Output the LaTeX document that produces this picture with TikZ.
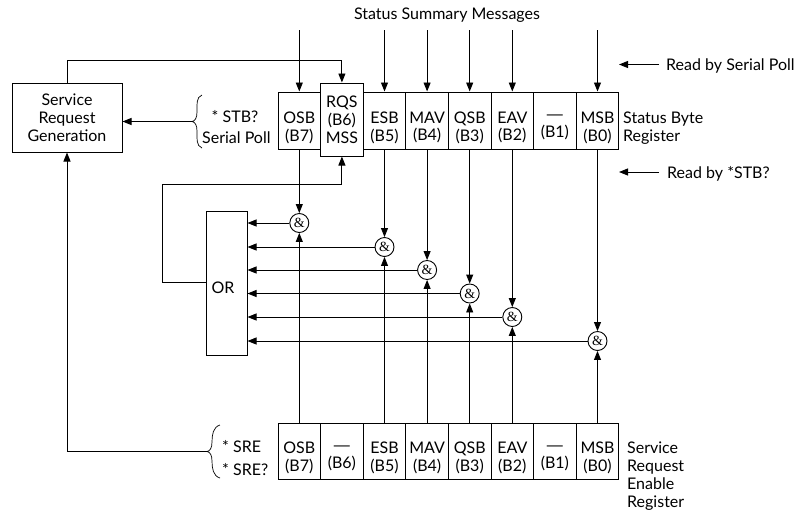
\documentclass[tikz,border=0pt]{standalone}
\usepackage{fontspec}
\setmainfont{Lato}
\newfontfamily\ampfont{Liberation Serif}
\newfontfamily\dashfont{Liberation Sans}
\usetikzlibrary{arrows.meta,calc}
\begin{document}
\begin{tikzpicture}[x=1pt,y=-1pt,
  arr/.style={-{Triangle[length=9pt,width=7pt]},line width=0.9pt},
  ln/.style={line width=0.9pt},
  cell/.style={draw,line width=1pt,minimum width=42.6pt,inner sep=0pt,fill=white},
  lab/.style={font=\fontsize{16}{17.8}\selectfont,align=center,inner sep=0pt},
  gate/.style={circle,draw,line width=0.9pt,minimum size=19pt,inner sep=0pt,fill=white,font=\ampfont\fontsize{14}{14}\selectfont}]
\useasboundingbox (0,0) rectangle (809,515);

% Status Byte Register
\foreach \nm/\i/\ta/\tb in {OSB/0/OSB/(B7), ESB/2/ESB/(B5), MAV/3/MAV/(B4), QSB/4/QSB/(B3), EAV/5/EAV/(B2), B1/6/{\dashfont—}/(B1), MSB/7/MSB/(B0)} {
  \node[cell,minimum height=57pt] (t\nm) at ({278+42.6*(\i+0.5)},120.5) {};
  \node[lab] (t\nm-l) at ($(t\nm.center)+(0,7)$) {\ta\\\tb};
}
\node[cell,minimum height=73pt] (tRQS) at (341.9,119.5) {};
\node[lab] (tRQS-l) at (tRQS.center) {RQS\\(B6)\\MSS};
\node[lab,anchor=west,align=left] (sbr) at (623,128) {Status Byte\\Register};

% Service Request Enable Register
\foreach \nm/\i/\ta/\tb in {OSB/0/OSB/(B7), B6/1/{\dashfont—}/(B6), ESB/2/ESB/(B5), MAV/3/MAV/(B4), QSB/4/QSB/(B3), EAV/5/EAV/(B2), B1/6/{\dashfont—}/(B1), MSB/7/MSB/(B0)} {
  \node[cell,minimum height=56pt] (b\nm) at ({278+42.6*(\i+0.5)},451) {};
  \node[lab] (b\nm-l) at ($(b\nm.center)+(0,7)$) {\ta\\\tb};
}
\node[lab,anchor=west,align=left] (sre) at (627,476) {Service\\Request\\Enable\\Register};

% Status summary messages
\node[lab] (ssm) at (447,15) {Status Summary Messages};
\foreach \nm in {OSB,ESB,MAV,QSB,EAV,MSB} {
  \coordinate (s\nm) at (t\nm |- 0,30);
  \draw[arr] (s\nm) -- (t\nm);
}

% Read by labels
\node[lab,anchor=west] (rsp) at (666,66) {Read by Serial Poll};
\coordinate (rspE) at (659,64.5);
\coordinate (rspT) at (619,64.5);
\draw[arr] (rspE) -- (rspT);
\node[lab,anchor=west] (rstb) at (667,174) {Read by *STB?};
\coordinate (rstbE) at (659,172);
\coordinate (rstbT) at (619,172);
\draw[arr] (rstbE) -- (rstbT);

% Service Request Generation
\node[draw,line width=1pt,minimum width=110pt,minimum height=69pt,inner sep=0pt] (srg) at (67,117.5) {};
\node[lab] (srg-l) at (67,118) {Service\\Request\\Generation};

% OR box
\node[draw,line width=1pt,minimum width=41pt,minimum height=144pt,inner sep=0pt] (orbox) at (226.5,283) {};
\node[lab] (orbox-l) at (223,288) {OR};

% AND gates
\node[gate] (g7) at (tOSB |- 0,223) {\&};
\node[gate] (g5) at (tESB |- 0,247) {\&};
\node[gate] (g4) at (tMAV |- 0,270) {\&};
\node[gate] (g3) at (tQSB |- 0,293.5) {\&};
\node[gate] (g2) at (tEAV |- 0,317) {\&};
\node[gate] (g0) at (tMSB |- 0,341) {\&};

\foreach \g/\nm in {g7/OSB,g5/ESB,g4/MAV,g3/QSB,g2/EAV,g0/MSB} {
  \draw[arr] (\g) -- (\g -| orbox.east);
  \draw[arr] (t\nm) -- (\g);
  \draw[arr] (b\nm) -- (\g);
}

% OR output back to RQS/MSS
\coordinate (orfb) at (orbox.west |- 0,282);
\coordinate (fbA) at (162,184);
\draw[arr] (orfb) -| (fbA) -| (tRQS.south);

% SRG feedback to RQS
\coordinate (ftop) at (tRQS.north |- 0,60);
\draw[arr] (srg.north) |- (ftop) -- (tRQS.north);

% *STB? / Serial Poll brace
\draw[ln,line width=0.7pt] (202,95) .. controls (196,97) and (197,105) .. (197,112) .. controls (197,118) and (195,121) .. (192,121.5) .. controls (195,122) and (197,125) .. (197,131) .. controls (197,138) and (196,146) .. (202,148);
\coordinate (bt1) at (192,121.5);
\draw[arr] (bt1) -- (bt1 -| srg.east);
\node[lab] (stb) at (235,117) {* STB?};
\node[lab,anchor=west] (sp) at (202,138) {Serial Poll};

% *SRE brace
\draw[ln,line width=0.7pt] (220,425) .. controls (213,427) and (212,435) .. (212,442) .. controls (212,448) and (210,451) .. (207,451.5) .. controls (210,452) and (212,455) .. (212,461) .. controls (212,468) and (213,476) .. (220,478);
\coordinate (bt2) at (207,451.5);
\draw[arr] (bt2) -| (srg.south);
\node[lab,anchor=west] (sre1) at (222,447) {* SRE};
\node[lab,anchor=west] (sre2) at (222,470) {* SRE?};
\end{tikzpicture}
\end{document}
